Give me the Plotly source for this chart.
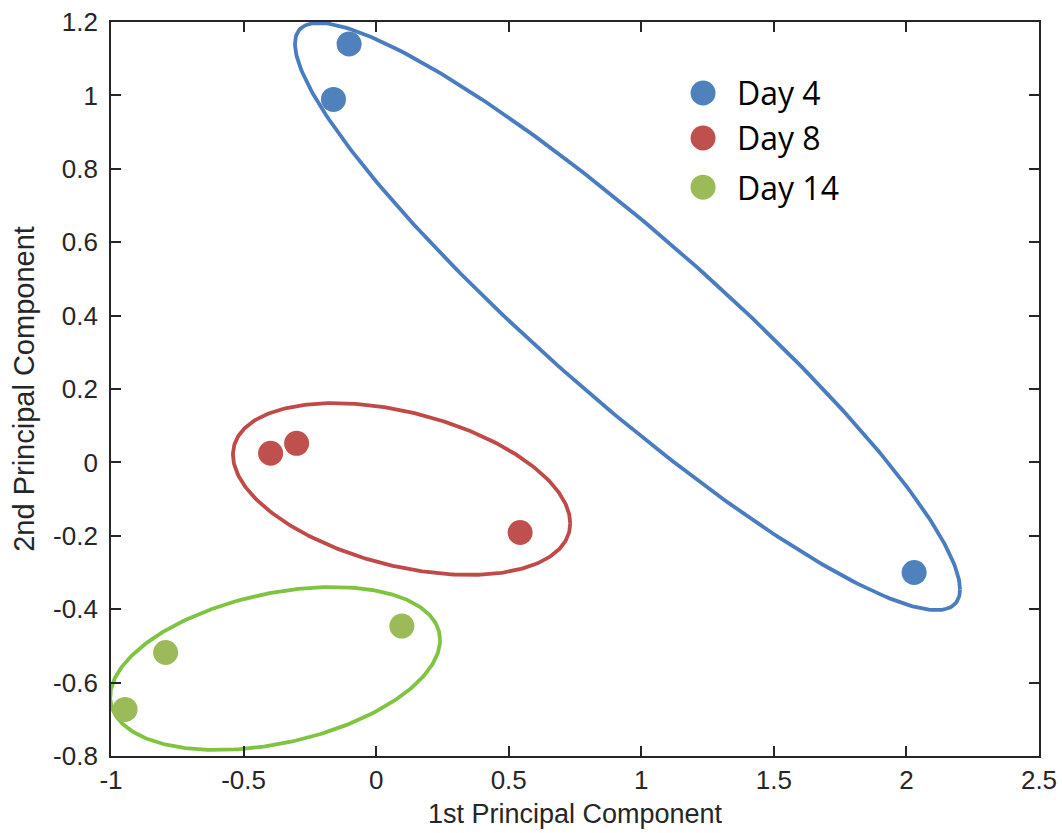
import numpy as np
import plotly.graph_objects as go

# Scores on the first two principal components, grouped by sampling day
series_names = ["Day 4", "Day 8", "Day 14"]
pc1_day4 = [-0.102, -0.161, 2.029]
pc2_day4 = [1.140, 0.989, -0.300]
pc1_day8 = [-0.398, -0.300, 0.543]
pc2_day8 = [0.025, 0.052, -0.191]
pc1_day14 = [-0.947, -0.794, 0.097]
pc2_day14 = [-0.673, -0.518, -0.446]

x_tick_vals = [-1, -0.5, 0, 0.5, 1, 1.5, 2, 2.5]
x_tick_text = ["-1", "-0.5", "0", "0.5", "1", "1.5", "2", "2.5"]
y_tick_vals = [-0.8, -0.6, -0.4, -0.2, 0, 0.2, 0.4, 0.6, 0.8, 1, 1.2]
y_tick_text = ["-0.8", "-0.6", "-0.4", "-0.2", "0", "0.2", "0.4", "0.6", "0.8", "1", "1.2"]

# Group outlines: centre, half-extent in x and y, and x/y correlation (tilt)
ell_cx = [0.948, 0.096, -0.381]
ell_cy = [0.3975, -0.0725, -0.5616]
ell_rx = [1.254, 0.636, 0.622]
ell_ry = [0.800, 0.234, 0.222]
ell_rho = [-0.929, -0.40, 0.35]

marker_colors = ["#4f81bd", "#c0504d", "#9bbb59"]
outline_colors = ["#4a7dbf", "#bf4a48", "#7fc441"]

pc1 = [pc1_day4, pc1_day8, pc1_day14]
pc2 = [pc2_day4, pc2_day8, pc2_day14]

fig = go.Figure()

t = np.linspace(0, 2 * np.pi, 361)
for i in range(3):
    rho = ell_rho[i]
    ex = ell_cx[i] + ell_rx[i] * np.cos(t)
    ey = ell_cy[i] + ell_ry[i] * (rho * np.cos(t) + np.sqrt(1 - rho ** 2) * np.sin(t))
    fig.add_trace(go.Scatter(
        x=ex, y=ey, mode="lines",
        line=dict(color=outline_colors[i], width=3.8),
        hoverinfo="skip", showlegend=False,
    ))

for i in range(3):
    fig.add_trace(go.Scatter(
        x=pc1[i], y=pc2[i], mode="markers", name=series_names[i],
        marker=dict(size=25, color=marker_colors[i], line=dict(width=0)),
        cliponaxis=False, showlegend=False,
    ))

# Legend drawn as dots with labels in the upper right of the plot area
legend_y = [0.9033, 0.842, 0.775]
for i in range(3):
    fig.add_shape(
        type="circle", xref="paper", yref="paper",
        xsizemode="pixel", ysizemode="pixel",
        xanchor=0.638, yanchor=legend_y[i],
        x0=-12.5, x1=12.5, y0=-12.5, y1=12.5,
        fillcolor=marker_colors[i], line=dict(width=0),
    )
    fig.add_annotation(
        x=0.6724, y=legend_y[i], xref="paper", yref="paper",
        text=series_names[i], showarrow=False, xanchor="left", yanchor="middle",
        font=dict(family="Open Sans", size=32, color="#000000"),
    )

axis_common = dict(
    showline=True, linecolor="#262626", linewidth=1.8, mirror="allticks",
    ticks="inside", ticklen=10, tickwidth=1.8, tickcolor="#262626",
    showgrid=False, zeroline=False, automargin=False,
    tickfont=dict(family="Liberation Sans", size=26, color="#262626"),
)

fig.update_xaxes(
    range=[-1, 2.5], tickvals=x_tick_vals, ticktext=x_tick_text,
    title=dict(text="1st Principal Component", standoff=10,
               font=dict(family="Liberation Sans", size=27, color="#262626")),
    **axis_common,
)
fig.update_yaxes(
    range=[-0.8, 1.2], tickvals=y_tick_vals, ticktext=y_tick_text,
    ticklabelstandoff=6,
    title=dict(text="2nd Principal Component", standoff=10,
               font=dict(family="Liberation Sans", size=29, color="#262626")),
    **axis_common,
)

fig.update_layout(
    width=1062, height=833, autosize=False,
    margin=dict(l=111, r=23, t=22, b=77),
    plot_bgcolor="white", paper_bgcolor="white",
    showlegend=False,
)

fig.write_html("out.html")
